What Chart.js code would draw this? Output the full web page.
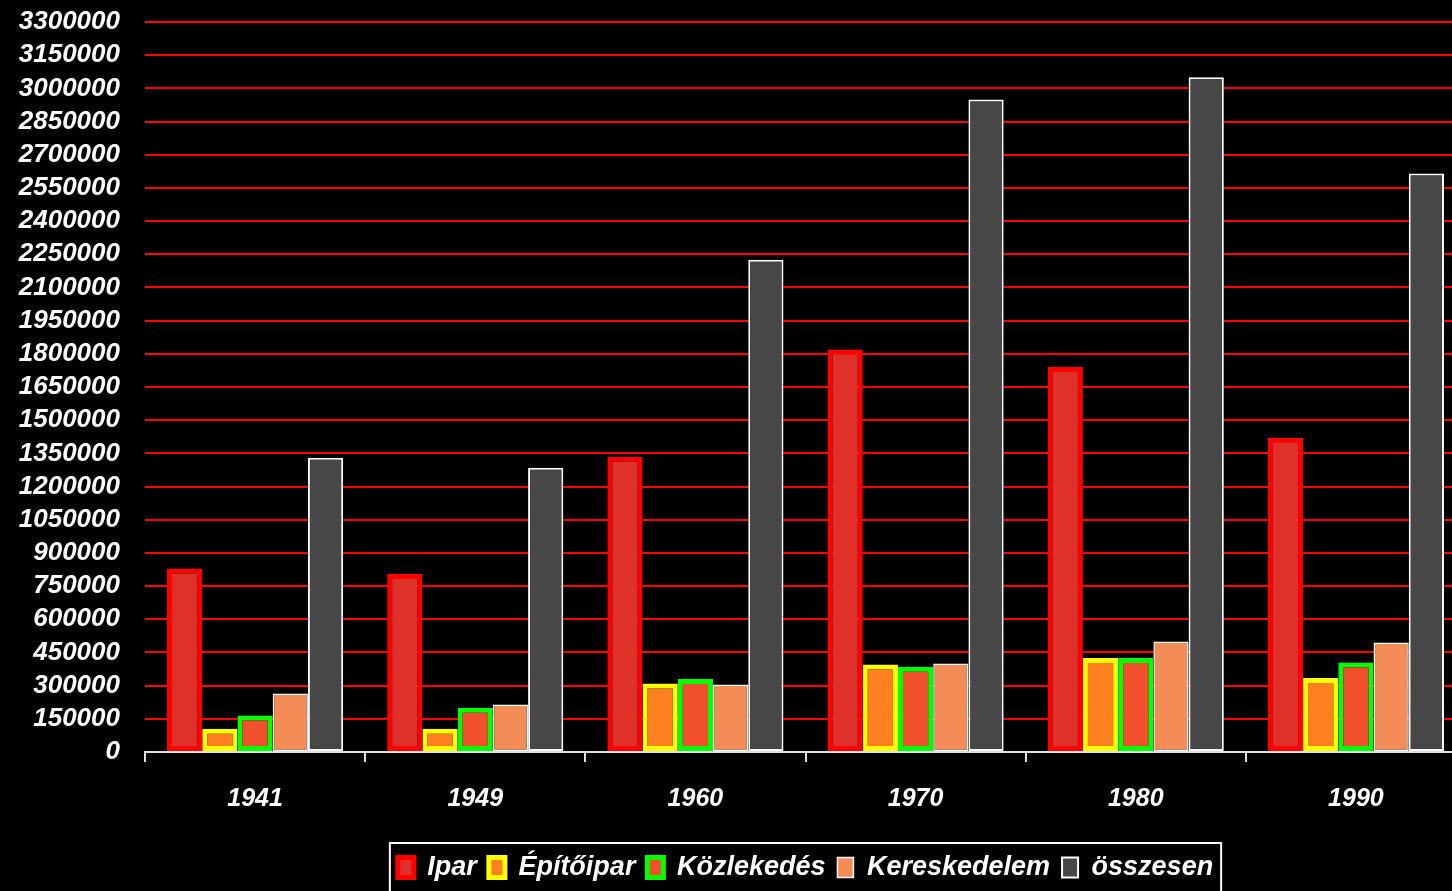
<!DOCTYPE html>
<html>
<head>
<meta charset="utf-8">
<script src="https://cdn.jsdelivr.net/npm/chart.js@4"></script>
<style>
  html, body { margin: 0; padding: 0; background: #000; overflow: hidden; }
  canvas { display: block; }
</style>
</head>
<body>
<canvas id="chart" width="1466" height="891"></canvas>
<script>
const years = ["1941", "1949", "1960", "1970", "1980", "1990"];
const seriesNames = ["Ipar", "Építőipar", "Közlekedés", "Kereskedelem", "összesen"];

const ipar = [830000, 805000, 1335000, 1820000, 1740000, 1420000];
const epitoipar = [105000, 105000, 310000, 395000, 425000, 335000];
const kozlekedes = [165000, 200000, 330000, 385000, 425000, 405000];
const kereskedelem = [265000, 215000, 305000, 400000, 500000, 495000];
const osszesen = [1330000, 1285000, 2225000, 2950000, 3050000, 2615000];

const yMax = 3300000;
const yStep = 150000;

const FONT = "'Liberation Sans', Arial, sans-serif";

// frame around the legend
const legendFrame = {
  id: "legendFrame",
  afterDraw(chart) {
    const lg = chart.legend;
    if (!lg || !lg.legendHitBoxes.length) return;
    const boxes = lg.legendHitBoxes;
    const left = boxes[0].left - 8;
    const right = boxes[boxes.length - 1].left + boxes[boxes.length - 1].width + 8;
    const ctx = chart.ctx;
    ctx.save();
    ctx.strokeStyle = "#ffffff";
    ctx.lineWidth = 2;
    ctx.strokeRect(left, lg.top + 1, right - left, 80);
    ctx.restore();
  },
};

new Chart(document.getElementById("chart"), {
  type: "bar",
  data: {
    labels: years,
    datasets: [
      {
        label: seriesNames[0],
        data: ipar,
        backgroundColor: "#e0302a",
        borderColor: "#ff0000",
        borderWidth: 5,
        borderSkipped: false,
      },
      {
        label: seriesNames[1],
        data: epitoipar,
        backgroundColor: "#ff8020",
        borderColor: "#ffff00",
        borderWidth: 5,
        borderSkipped: false,
      },
      {
        label: seriesNames[2],
        data: kozlekedes,
        backgroundColor: "#f0502c",
        borderColor: "#00ff00",
        borderWidth: 5,
        borderSkipped: false,
      },
      {
        label: seriesNames[3],
        data: kereskedelem,
        backgroundColor: "#f48c58",
        borderColor: "#ffffff",
        borderWidth: 1.5,
        borderSkipped: false,
      },
      {
        label: seriesNames[4],
        data: osszesen,
        backgroundColor: "#474747",
        borderColor: "#ffffff",
        borderWidth: 2,
        borderSkipped: false,
      },
    ],
  },
  options: {
    responsive: false,
    animation: false,
    devicePixelRatio: 1,
    categoryPercentage: 0.8,
    barPercentage: 1.0,
    layout: { padding: { top: 22, right: 0, bottom: 0, left: 0 } },
    plugins: {
      tooltip: { enabled: false },
      legend: {
        position: "bottom",
        fullSize: false,
        labels: {
          color: "#ffffff",
          font: { family: FONT, size: 27, weight: "bold", style: "italic" },
          boxWidth: 16,
          boxHeight: 20,
          padding: 12,
        },
      },
    },
    scales: {
      x: {
        grid: {
          offset: true,
          drawOnChartArea: false,
          color: "#e0e0e0",
          lineWidth: 2,
          tickLength: 10,
        },
        border: { display: true, color: "#e0e0e0", width: 2 },
        ticks: {
          color: "#ffffff",
          padding: 22,
          font: { family: FONT, size: 25, weight: "bold", style: "italic" },
        },
        afterFit(scale) {
          scale.height = 90;
        },
      },
      y: {
        min: 0,
        max: yMax,
        grid: {
          color: "#ff0000",
          lineWidth: 2,
          drawTicks: false,
        },
        border: { display: false },
        ticks: {
          stepSize: yStep,
          autoSkip: false,
          color: "#ffffff",
          padding: 25,
          font: { family: FONT, size: 26, weight: "bold", style: "italic" },
          callback: (v) => String(v),
        },
        afterFit(scale) {
          scale.width = 145;
          scale.paddingTop = 0;
          scale.paddingBottom = 0;
        },
      },
    },
  },
  plugins: [legendFrame],
});
</script>
</body>
</html>
